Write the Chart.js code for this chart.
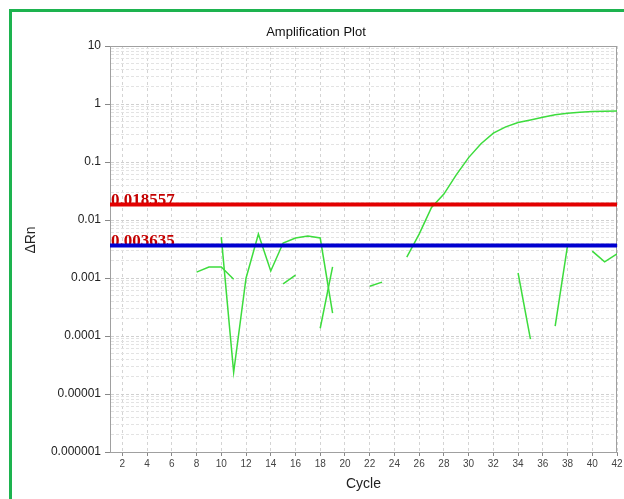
<!DOCTYPE html>
<html lang="en">
<head>
<meta charset="UTF-8" />
<title>Amplification Plot</title>
<script src="https://cdn.jsdelivr.net/npm/chart.js@4.4.0/dist/chart.umd.min.js"></script>
<style>
  html, body { margin: 0; padding: 0; background: #fff; overflow: hidden; }
  #frame { position: absolute; left: 9px; top: 9px; width: 700px; height: 600px;
           border-left: 3px solid #1db34f; border-top: 3px solid #1db34f; }
  #wrap { position: absolute; left: 0; top: 0; width: 624px; height: 499px; }
</style>
</head>
<body>
<div id="frame"></div>
<div id="wrap"><canvas id="chart"></canvas></div>
<script>
// cycle numbers (x axis)
const cycles = [1, 2, 3, 4, 5, 6, 7, 8, 9, 10, 11, 12, 13, 14, 15, 16, 17, 18, 19, 20, 21,
                22, 23, 24, 25, 26, 27, 28, 29, 30, 31, 32, 33, 34, 35, 36, 37, 38, 39, 40, 41, 42];

// delta Rn per well, null = not plotted (negative on a log axis)
const wellA = [null, null, null, null, null, null, null, 0.00126, 0.00155, 0.00155, 0.00095,
               null, null, null, 0.00079, 0.00112, null, 0.000136, 0.00155, null, null,
               0.00072, 0.00085, null, null, null, null, null, null, null, null,
               null, null, null, null, null, null, null, null, null, null, null];
const wellB = [null, null, null, null, null, null, null, null, null, 0.00508, 0.0000237,
               0.00099, 0.00573, 0.00132, 0.00401, 0.00489, 0.0053, 0.00489, 0.000248, null, null,
               null, null, null, null, null, null, null, null, null, null,
               null, null, null, null, null, null, null, null, null, null, null];
const wellC = [null, null, null, null, null, null, null, null, null, null, null,
               null, null, null, null, null, null, null, null, null, null,
               null, null, null, 0.0023, 0.0057, 0.0164, 0.028, 0.060, 0.119, 0.206,
               0.314, 0.404, 0.48, 0.53, 0.59, 0.65, 0.69, 0.72, 0.74, 0.75, 0.76];
const wellD = [null, null, null, null, null, null, null, null, null, null, null,
               null, null, null, null, null, null, null, null, null, null,
               null, null, null, null, null, null, null, null, null, null,
               null, null, 0.00122, 0.000088, null, 0.000148, 0.0036, null, 0.0029, 0.0019, 0.0026];

const thresholds = [0.018557, 0.003635];
const thresholdLabels = ["0.018557", "0.003635"];
const thresholdColors = ["#e30000", "#0000d0"];

const xTicks = [2, 4, 6, 8, 10, 12, 14, 16, 18, 20, 22, 24, 26, 28, 30, 32, 34, 36, 38, 40, 42];
const yTickValues = [0.000001, 0.00001, 0.0001, 0.001, 0.01, 0.1, 1, 10];
const yTickLabels = ["0.000001", "0.00001", "0.0001", "0.001", "0.01", "0.1", "1", "10"];

const chartTitle = "Amplification Plot";
const yTitle = "ΔRn";

const isDecade = v => Math.abs(Math.log10(v) - Math.round(Math.log10(v))) < 1e-9;

// log ticks incl. minor ones (for the fine grid)
const yAllTicks = [];
for (let k = -6; k <= 0; k++) {
  for (let j = 1; j <= 9; j++) yAllTicks.push(j * Math.pow(10, k));
}
yAllTicks.push(10);

const toPoints = arr => cycles.map((c, i) => ({ x: c, y: arr[i] }));

const wellStyle = { borderColor: "#3ddc3d", borderWidth: 1.5, pointRadius: 0, tension: 0, spanGaps: false };

const frame = {
  id: "frame",
  beforeDatasetsDraw(chart) {
    const { ctx, chartArea: a, scales } = chart;
    ctx.save();
    ctx.strokeStyle = "#a0a0a0";
    ctx.lineWidth = 1;
    ctx.strokeRect(a.left + 0.5, a.top + 0.5, a.right - a.left - 1, a.bottom - a.top);
    // threshold values written just above their lines
    ctx.font = 'bold 17px "Liberation Serif"';
    ctx.fillStyle = "#c40000";
    ctx.textBaseline = "alphabetic";
    thresholds.forEach((t, i) => {
      ctx.fillText(thresholdLabels[i], a.left + 1, scales.y.getPixelForValue(t) + 1);
    });
    // chart title and y title
    ctx.fillStyle = "#111";
    ctx.textAlign = "center";
    ctx.textBaseline = "middle";
    ctx.font = '13px "Liberation Sans", Arial';
    ctx.fillText(chartTitle, 316, 32);
    ctx.translate(31, 240);
    ctx.rotate(-Math.PI / 2);
    ctx.fillStyle = "#222";
    ctx.font = '14px "Liberation Sans", Arial';
    ctx.fillText(yTitle, 0, 0);
    ctx.restore();
  }
};

const ctx = document.getElementById("chart").getContext("2d");
new Chart(ctx, {
  type: "line",
  data: {
    datasets: [
      { data: toPoints(cycles.map(() => thresholds[0])), borderColor: thresholdColors[0], borderWidth: 4, pointRadius: 0 },
      { data: toPoints(cycles.map(() => thresholds[1])), borderColor: thresholdColors[1], borderWidth: 4, pointRadius: 0 },
      { data: toPoints(wellA), ...wellStyle },
      { data: toPoints(wellB), ...wellStyle },
      { data: toPoints(wellC), ...wellStyle },
      { data: toPoints(wellD), ...wellStyle }
    ]
  },
  options: {
    responsive: true,
    maintainAspectRatio: false,
    animation: false,
    layout: { padding: { left: 0, right: 7, top: 46, bottom: 0 } },
    plugins: {
      legend: { display: false },
      tooltip: { enabled: false },
      title: { display: false }
    },
    scales: {
      x: {
        type: "linear",
        min: 1,
        max: 42,
        afterBuildTicks: s => { s.ticks = xTicks.map(v => ({ value: v })); },
        afterFit: s => { s.height = 47; s.paddingLeft = 0; s.paddingRight = 0; },
        ticks: {
          autoSkip: false, maxRotation: 0, padding: 2, color: "#444",
          font: { family: '"Liberation Sans", Arial', size: 10 },
          callback: v => String(v)
        },
        grid: { color: "#d4d4d4", tickColor: "#888", tickLength: 4, tickBorderDash: [] },
        border: { color: "#a0a0a0", dash: [3, 3] },
        title: {
          display: true, text: "Cycle", color: "#222",
          font: { family: '"Liberation Sans", Arial', size: 14 },
          padding: { top: 0, bottom: 6 }
        }
      },
      y: {
        type: "logarithmic",
        min: 0.000001,
        max: 10,
        afterBuildTicks: s => { s.ticks = yAllTicks.map(v => ({ value: v })); },
        afterFit: s => { s.width = 110; s.paddingTop = 0; s.paddingBottom = 0; },
        ticks: {
          autoSkip: false, padding: 4, color: "#222",
          font: { family: '"Liberation Sans", Arial', size: 12 },
          callback: v => {
            const i = yTickValues.findIndex(t => Math.abs(Math.log10(t) - Math.log10(v)) < 1e-9);
            return i >= 0 ? yTickLabels[i] : "";
          }
        },
        grid: {
          color: c => (c.tick && isDecade(c.tick.value)) ? "#d0d0d0" : "#e3e3e3",
          tickColor: c => (c.tick && isDecade(c.tick.value)) ? "#888" : "rgba(0,0,0,0)",
          tickLength: 5,
          tickBorderDash: []
        },
        border: { color: "#a0a0a0", dash: [3, 2] },
        title: { display: false }
      }
    }
  },
  plugins: [frame]
});
</script>
</body>
</html>
